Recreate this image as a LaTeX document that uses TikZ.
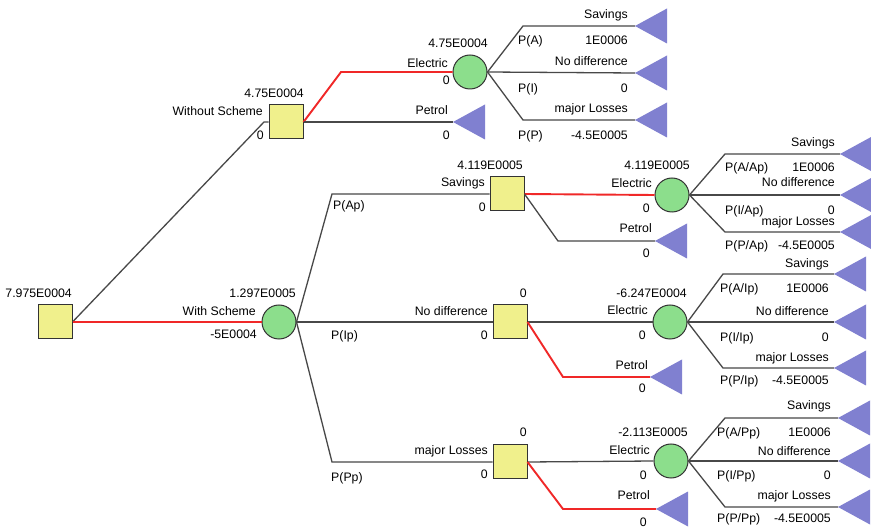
\documentclass[tikz,border=0pt]{standalone}
\usepackage{fontspec}
\setmainfont{Liberation Sans}
\definecolor{sqfill}{RGB}{240,240,140}
\definecolor{cfill}{RGB}{140,222,140}
\definecolor{trifill}{RGB}{128,128,208}
\definecolor{linegray}{RGB}{72,72,72}
\definecolor{optred}{RGB}{240,40,40}
\begin{document}
\begin{tikzpicture}[x=1pt,y=-1pt,
  lbl/.style={font=\fontsize{12.3}{14}\selectfont, inner sep=0pt, text=black},
  rlbl/.style={lbl, anchor=base east},
  llbl/.style={lbl, anchor=base west},
  decision/.style={draw=black!80, fill=sqfill, minimum size=34pt, inner sep=0pt, line width=1pt},
  chance/.style={circle, draw=black!80, fill=cfill, minimum size=34pt, inner sep=0pt, line width=1pt},
  branch/.style={draw=linegray, line width=1.3pt},
  chosen/.style={draw=optred, line width=1.9pt},
  endtri/.pic={\path[fill=trifill] (0,0) -- (32,-17.5) -- (32,17.5) -- cycle;}
]
\fill[white] (0,0) rectangle (871,529);
\useasboundingbox (0,0) rectangle (871,529);
\clip (0,0) rectangle (871,529);

% ---------- decision and chance nodes ----------
\node[decision] (root) at (55,322) {};
\node[decision] (wo)   at (286,122) {};
\node[chance]   (ws)   at (279,322) {};
\node[chance]   (e0)   at (470,72) {};
\node[decision] (d1)   at (507,194) {};
\node[chance]   (e1)   at (672,195) {};
\node[decision] (d2)   at (510,322) {};
\node[chance]   (e2)   at (670,322) {};
\node[decision] (d3)   at (510,462) {};
\node[chance]   (e3)   at (671,461) {};

% ---------- terminal points (triangle tips) ----------
\coordinate (p0)  at (453,122);
\coordinate (t01) at (635,26);
\coordinate (t02) at (635,73);
\coordinate (t03) at (635,120);
\coordinate (p1)  at (655,241);
\coordinate (t11) at (840,154);
\coordinate (t12) at (840,195);
\coordinate (t13) at (840,232);
\coordinate (p2)  at (650,377);
\coordinate (t21) at (834,274);
\coordinate (t22) at (834,322);
\coordinate (t23) at (834,368);
\coordinate (p3)  at (656,509);
\coordinate (t31) at (838,418);
\coordinate (t32) at (838,461);
\coordinate (t33) at (838,507);

% ---------- branch elbows ----------
\coordinate (kwo) at (264,122);
\coordinate (ke0) at (341,72);
\coordinate (ka0) at (523,26);
\coordinate (kp0) at (523,120);
\coordinate (kd1) at (332,194);
\coordinate (kd3) at (332,462);
\coordinate (kp1) at (558,241);
\coordinate (ka1) at (725,154);
\coordinate (kc1) at (725,232);
\coordinate (kp2) at (563,377);
\coordinate (ka2) at (723,274);
\coordinate (kc2) at (723,368);
\coordinate (kp3) at (563,509);
\coordinate (ka3) at (725,418);
\coordinate (kc3) at (725,507);

% ---------- connectors ----------
\draw[branch] (root.east) -- (kwo) -- (wo.west);
\draw[chosen] (root.east) -- (ws.west);
\draw[chosen] (wo.east) -- (ke0) -- (e0.west);
\draw[branch] (wo.east) -- (p0);
\draw[branch] (e0.east) -- (ka0) -- (t01);
\draw[branch] (e0.east) -- (t02);
\draw[branch] (e0.east) -- (kp0) -- (t03);

\draw[branch] (ws.east) -- (kd1) -- (d1.west);
\draw[branch] (ws.east) -- (d2.west);
\draw[branch] (ws.east) -- (kd3) -- (d3.west);

\draw[chosen] (d1.east) -- (e1.west);
\draw[branch] (d1.east) -- (kp1) -- (p1);
\draw[branch] (e1.east) -- (ka1) -- (t11);
\draw[branch] (e1.east) -- (t12);
\draw[branch] (e1.east) -- (kc1) -- (t13);

\draw[branch] (d2.east) -- (e2.west);
\draw[chosen] (d2.east) -- (kp2) -- (p2);
\draw[branch] (e2.east) -- (ka2) -- (t21);
\draw[branch] (e2.east) -- (t22);
\draw[branch] (e2.east) -- (kc2) -- (t23);

\draw[branch] (d3.east) -- (e3.west);
\draw[chosen] (d3.east) -- (kp3) -- (p3);
\draw[branch] (e3.east) -- (ka3) -- (t31);
\draw[branch] (e3.east) -- (t32);
\draw[branch] (e3.east) -- (kc3) -- (t33);

% ---------- terminal triangles ----------
\foreach \t in {p0,t01,t02,t03,p1,t11,t12,t13,p2,t21,t22,t23,p3,t31,t32,t33}
  \pic at (\t) {endtri};

% ---------- labels: root and first level ----------
\node[rlbl] (lroot) at (72,297.5) {7.975E0004};
\node[rlbl] (lwsv) at (296,297.5) {1.297E0005};
\node[rlbl] (lwsn) at (256,315.5) {With Scheme};
\node[rlbl] (lwsc) at (257,338.5) {-5E0004};
\node[rlbl] (lwov) at (304,97.5) {4.75E0004};
\node[rlbl] (lwon) at (263,115.5) {Without Scheme};
\node[rlbl] (lwoc) at (264,139.5) {0};

% ---------- without scheme subtree ----------
\node[rlbl] (le0v) at (488,47.5) {4.75E0004};
\node[rlbl] (le0n) at (448,67.5) {Electric};
\node[rlbl] (le0c) at (450,84.5) {0};
\node[rlbl] (lp0n) at (448,114.5) {Petrol};
\node[rlbl] (lp0c) at (450,139.5) {0};
\node[rlbl] (l01n) at (628,18.5) {Savings};
\node[llbl] (l01p) at (518,44.5) {P(A)};
\node[rlbl] (l01v) at (628,44.5) {1E0006};
\node[rlbl] (l02n) at (628,65.5) {No difference};
\node[llbl] (l02p) at (518,92.5) {P(I)};
\node[rlbl] (l02v) at (628,92.5) {0};
\node[rlbl] (l03n) at (628,112.5) {major Losses};
\node[llbl] (l03p) at (518,139.5) {P(P)};
\node[rlbl] (l03v) at (628,139.5) {-4.5E0005};

% ---------- savings branch ----------
\node[rlbl] (ld1v) at (523,169.5) {4.119E0005};
\node[rlbl] (ld1n) at (485,186.5) {Savings};
\node[rlbl] (ld1c) at (486,211.5) {0};
\node[llbl] (ld1p) at (333,209.5) {P(Ap)};
\node[rlbl] (le1v) at (690,169.5) {4.119E0005};
\node[rlbl] (le1n) at (652,187.5) {Electric};
\node[rlbl] (le1c) at (650,212.5) {0};
\node[rlbl] (lp1n) at (652,232.5) {Petrol};
\node[rlbl] (lp1c) at (650,257.5) {0};
\node[rlbl] (l11n) at (835,146.5) {Savings};
\node[llbl] (l11p) at (725,171.5) {P(A/Ap)};
\node[rlbl] (l11v) at (835,171.5) {1E0006};
\node[rlbl] (l12n) at (835,186.5) {No difference};
\node[llbl] (l12p) at (725,214.5) {P(I/Ap)};
\node[rlbl] (l12v) at (835,214.5) {0};
\node[rlbl] (l13n) at (835,225.5) {major Losses};
\node[llbl] (l13p) at (725,249.5) {P(P/Ap)};
\node[rlbl] (l13v) at (835,249.5) {-4.5E0005};

% ---------- no difference branch ----------
\node[rlbl] (ld2v) at (527,297.5) {0};
\node[rlbl] (ld2n) at (488,315.5) {No difference};
\node[rlbl] (ld2c) at (488,339.5) {0};
\node[llbl] (ld2p) at (331,339.5) {P(Ip)};
\node[rlbl] (le2v) at (687,297.5) {-6.247E0004};
\node[rlbl] (le2n) at (648,314.5) {Electric};
\node[rlbl] (le2c) at (646,339.5) {0};
\node[rlbl] (lp2n) at (648,369.5) {Petrol};
\node[rlbl] (lp2c) at (646,392.5) {0};
\node[rlbl] (l21n) at (829,267.5) {Savings};
\node[llbl] (l21p) at (720,292.5) {P(A/Ip)};
\node[rlbl] (l21v) at (829,292.5) {1E0006};
\node[rlbl] (l22n) at (829,315.5) {No difference};
\node[llbl] (l22p) at (720,341.5) {P(I/Ip)};
\node[rlbl] (l22v) at (829,341.5) {0};
\node[rlbl] (l23n) at (829,361.5) {major Losses};
\node[llbl] (l23p) at (720,384.5) {P(P/Ip)};
\node[rlbl] (l23v) at (829,384.5) {-4.5E0005};

% ---------- major losses branch ----------
\node[rlbl] (ld3v) at (527,436.5) {0};
\node[rlbl] (ld3n) at (488,454.5) {major Losses};
\node[rlbl] (ld3c) at (488,478.5) {0};
\node[llbl] (ld3p) at (331,481.5) {P(Pp)};
\node[rlbl] (le3v) at (688,436.5) {-2.113E0005};
\node[rlbl] (le3n) at (650,454.5) {Electric};
\node[rlbl] (le3c) at (647,479.5) {0};
\node[rlbl] (lp3n) at (650,499.5) {Petrol};
\node[rlbl] (lp3c) at (647,526.5) {0};
\node[rlbl] (l31n) at (831,409.5) {Savings};
\node[llbl] (l31p) at (717,436.5) {P(A/Pp)};
\node[rlbl] (l31v) at (831,436.5) {1E0006};
\node[rlbl] (l32n) at (831,455.5) {No difference};
\node[llbl] (l32p) at (717,479.5) {P(I/Pp)};
\node[rlbl] (l32v) at (831,479.5) {0};
\node[rlbl] (l33n) at (831,499.5) {major Losses};
\node[llbl] (l33p) at (717,522.5) {P(P/Pp)};
\node[rlbl] (l33v) at (831,522.5) {-4.5E0005};
\end{tikzpicture}
\end{document}
